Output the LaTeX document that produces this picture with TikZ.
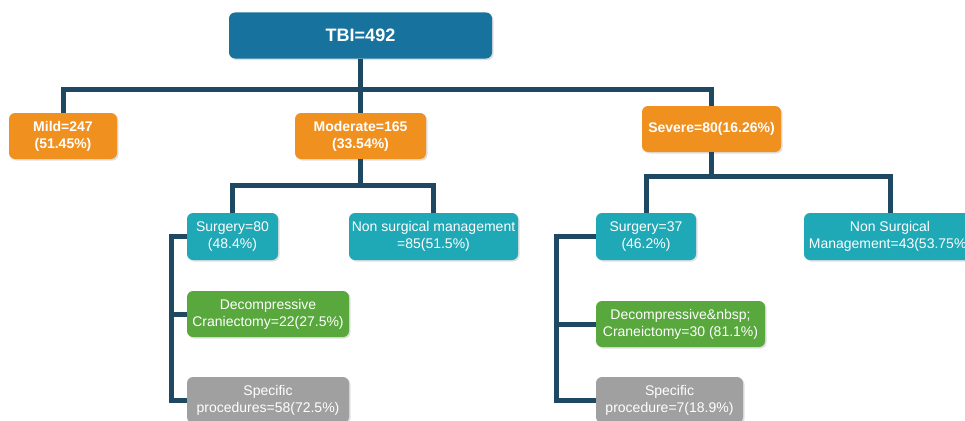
\documentclass[tikz,border=0pt]{standalone}
\usepackage{fontspec}
\setmainfont{Liberation Sans}
\usetikzlibrary{positioning}
\usetikzlibrary{shadows}

\definecolor{tbiblue}{HTML}{17729E}
\definecolor{gradeorange}{HTML}{F0901F}
\definecolor{treatteal}{HTML}{1FA8B5}
\definecolor{procgreen}{HTML}{58A83D}
\definecolor{procgray}{HTML}{A0A0A0}
\definecolor{linknavy}{HTML}{1F4863}

\begin{document}
\begin{tikzpicture}[x=1pt, y=-1pt,
    every node/.style={font=\fontsize{14}{16.8}\selectfont, text=white, align=center},
    box/.style={rectangle, rounded corners=6pt, inner sep=2pt, drop shadow={opacity=0.25, shadow xshift=1.5pt, shadow yshift=-1.5pt}},
    grade/.style={box, fill=gradeorange, font=\fontsize{14}{16.8}\selectfont\bfseries, minimum height=46pt},
    treat/.style={box, fill=treatteal, minimum height=47pt},
    proc/.style={box, fill=procgreen, minimum height=46pt},
    other/.style={box, fill=procgray, minimum height=46pt},
    link/.style={draw=linknavy, line width=5pt}]
            \useasboundingbox (0,0) rectangle (965,420);
            \coordinate (busTop) at (0,89);
            \coordinate (busMod) at (0,185);
            \coordinate (busSev) at (0,176);
            \node[box, fill=tbiblue, minimum width=263pt, minimum height=46pt, font=\fontsize{18}{21}\selectfont\bfseries] (TBI) at (360.5,35.5) {TBI=492};
            \node[grade, minimum width=108pt] (Mild) at (63,136) {Mild=247\\(51.45\%)};
            \node[grade, minimum width=131pt] (Moderate) at (360.5,136) {Moderate=165\\(33.54\%)};
            \node[grade, minimum width=139pt] (Severe) at (711.5,129) {Severe=80(16.26\%)};
            \node[treat, minimum width=91pt] (SurgMod) at (232.5,236.5) {Surgery=80\\(48.4\%)};
            \node[treat, minimum width=169pt] (NonSurgMod) at (433.5,236.5) {Non surgical management\\=85(51.5\%)};
            \node[proc, minimum width=162pt] (DecMod) at (268,314) {Decompressive\\Craniectomy=22(27.5\%)};
            \node[other, minimum width=162pt] (SpecMod) at (268,400) {Specific\\procedures=58(72.5\%)};
            \node[treat, minimum width=100pt] (SurgSev) at (646,236.5) {Surgery=37\\(46.2\%)};
            \node[treat, minimum width=172pt] (NonSurgSev) at (890,236.5) {Non Surgical\\Management=43(53.75\%)};
            \node[proc, minimum width=169pt] (DecSev) at (680.5,324) {Decompressive\&nbsp;\\Craneictomy=30 (81.1\%)};
            \node[other, minimum width=147pt] (SpecSev) at (669.5,400) {Specific\\procedure=7(18.9\%)};
            \draw[link] (TBI.south) -- (Moderate.north);
            \draw[link] (Mild.north) -- (Mild.north |- busTop) -- (Severe.north |- busTop) -- (Severe.north);
            \draw[link] (Moderate.south) -- (Moderate.south |- busMod);
            \draw[link] (SurgMod.north) -- (SurgMod.north |- busMod) -- (NonSurgMod.north |- busMod) -- (NonSurgMod.north);
            \draw[link] (SurgMod.west) -- ++(-15,0) |- (SpecMod.west);
            \draw[link] (DecMod.west) -- ++(-15,0);
            \draw[link] (Severe.south) -- (Severe.south |- busSev);
            \draw[link] (SurgSev.north) -- (SurgSev.north |- busSev) -- (NonSurgSev.north |- busSev) -- (NonSurgSev.north);
            \draw[link] (SurgSev.west) -- ++(-39,0) |- (SpecSev.west);
            \draw[link] (DecSev.west) -- ++(-39,0);
        \end{tikzpicture}
\end{document}
